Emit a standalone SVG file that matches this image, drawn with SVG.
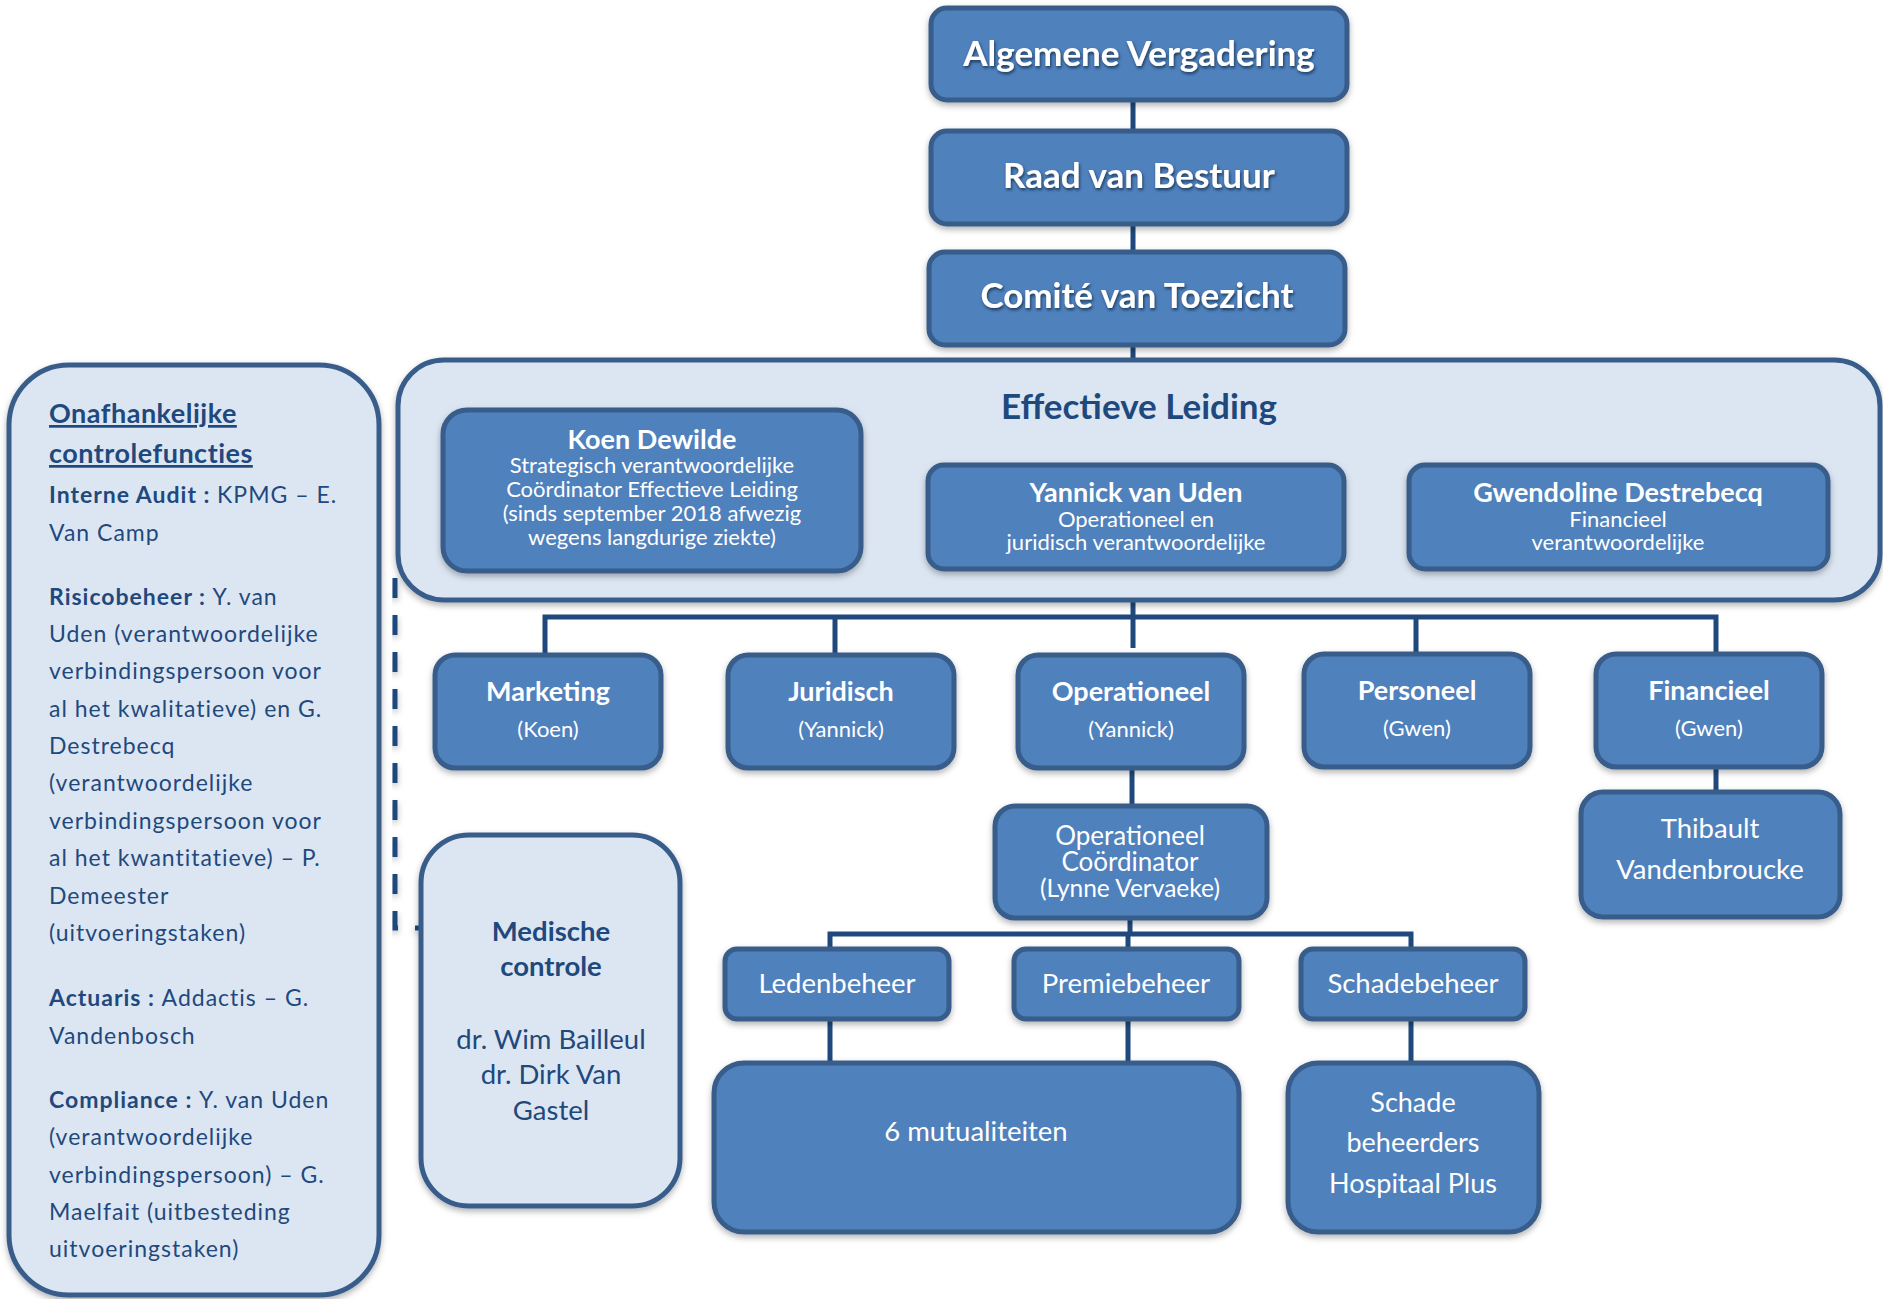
<svg xmlns="http://www.w3.org/2000/svg" width="1883" height="1299" viewBox="0 0 1883 1299">
<defs>
<filter id="sh" x="-10%" y="-10%" width="120%" height="130%">
<feDropShadow dx="0" dy="3" stdDeviation="3" flood-color="#000" flood-opacity="0.3"/>
</filter>
<filter id="tsh" x="-5%" y="-20%" width="110%" height="150%">
<feDropShadow dx="1" dy="2" stdDeviation="1.5" flood-color="#10253f" flood-opacity="0.8"/>
</filter>
<style>
.box{fill:#4f81bd;stroke:#385d8a;stroke-width:5}
.lbox{fill:#dce6f2;stroke:#385d8a;stroke-width:5}
.con{fill:none;stroke:#1f497d;stroke-width:5}
.dash{fill:none;stroke:#1f497d;stroke-width:5;stroke-dasharray:20 17}
text{font-family:Lato,"Liberation Sans",sans-serif}
.w{fill:#ffffff;text-anchor:middle}
.b{font-weight:bold}
.dk{fill:#1f497d}
.big{font-size:35px;font-weight:bold;fill:#fff;text-anchor:middle}
.hd{font-size:27px;font-weight:bold}
.dep{font-size:27px}
.sub{font-size:22px}
.lt{font-size:23px;fill:#1f497d;letter-spacing:1px}
.lh{font-size:27px;font-weight:bold;letter-spacing:0.5px;text-decoration:underline}
</style>
</defs>
<g id="connectors">
<path class="con" d="M1133 100V131M1133 225V251M1133 346V359M1133 600V648"/>
<path class="con" d="M545 654V617H1716V654M835 617V654M1416 617V654"/>
<path class="con" d="M1132 769V805M1716 768V791"/>
<path class="con" d="M1130 919V934M830 948V934H1411V948M1128 934V948"/>
<path class="con" d="M830 1020V1063M1128 1020V1063M1411 1020V1063"/>
<path class="dash" d="M395 578V928H420" filter="url(#sh)"/>
</g>
<g id="algemene-vergadering">
<rect class="box" x="931" y="8" width="416" height="92" rx="16" filter="url(#sh)"/>
<text class="big" x="1139" y="66" filter="url(#tsh)">Algemene Vergadering</text>
</g>
<g id="raad-van-bestuur">
<rect class="box" x="931" y="131" width="416" height="93" rx="16" filter="url(#sh)"/>
<text class="big" x="1139" y="188" filter="url(#tsh)">Raad van Bestuur</text>
</g>
<g id="comite-van-toezicht">
<rect class="box" x="929" y="252" width="416" height="93" rx="16" filter="url(#sh)"/>
<text class="big" x="1137" y="308" filter="url(#tsh)">Comité van Toezicht</text>
</g>
<g id="effectieve-leiding">
<rect class="lbox" x="398" y="360" width="1482" height="240" rx="46" filter="url(#sh)"/>
<text class="dk b" x="1139" y="419" font-size="35" text-anchor="middle">Effectieve Leiding</text>
</g>
<g id="koen-dewilde">
<rect class="box" x="443" y="410" width="418" height="161" rx="24" filter="url(#sh)"/>
<text class="w hd" x="652" y="449">Koen Dewilde</text>
<text class="w sub" x="652" y="473">Strategisch verantwoordelijke</text>
<text class="w sub" x="652" y="497">Coördinator Effectieve Leiding</text>
<text class="w sub" x="652" y="521">(sinds september 2018 afwezig</text>
<text class="w sub" x="652" y="545">wegens langdurige ziekte)</text>
</g>
<g id="yannick-van-uden">
<rect class="box" x="928" y="465" width="416" height="104" rx="16" filter="url(#sh)"/>
<text class="w hd" x="1136" y="502">Yannick van Uden</text>
<text class="w sub" x="1136" y="527">Operationeel en</text>
<text class="w sub" x="1136" y="550">juridisch verantwoordelijke</text>
</g>
<g id="gwendoline-destrebecq">
<rect class="box" x="1409" y="465" width="419" height="104" rx="16" filter="url(#sh)"/>
<text class="w hd" x="1618" y="502">Gwendoline Destrebecq</text>
<text class="w sub" x="1618" y="527">Financieel</text>
<text class="w sub" x="1618" y="550">verantwoordelijke</text>
</g>
<g id="marketing">
<rect class="box" x="435" y="655" width="226" height="113" rx="20" filter="url(#sh)"/>
<text class="w b dep" x="548" y="701">Marketing</text>
<text class="w sub" x="548" y="737">(Koen)</text>
</g>
<g id="juridisch">
<rect class="box" x="728" y="655" width="226" height="113" rx="20" filter="url(#sh)"/>
<text class="w b dep" x="841" y="701">Juridisch</text>
<text class="w sub" x="841" y="737">(Yannick)</text>
</g>
<g id="operationeel">
<rect class="box" x="1018" y="655" width="226" height="113" rx="20" filter="url(#sh)"/>
<text class="w b dep" x="1131" y="701">Operationeel</text>
<text class="w sub" x="1131" y="737">(Yannick)</text>
</g>
<g id="personeel">
<rect class="box" x="1304" y="654" width="226" height="113" rx="20" filter="url(#sh)"/>
<text class="w b dep" x="1417" y="700">Personeel</text>
<text class="w sub" x="1417" y="736">(Gwen)</text>
</g>
<g id="financieel">
<rect class="box" x="1596" y="654" width="226" height="113" rx="20" filter="url(#sh)"/>
<text class="w b dep" x="1709" y="700">Financieel</text>
<text class="w sub" x="1709" y="736">(Gwen)</text>
</g>
<g id="thibault-vandenbroucke">
<rect class="box" x="1581" y="792" width="259" height="125" rx="22" filter="url(#sh)"/>
<text class="w" x="1710" y="838" font-size="27.5">Thibault</text>
<text class="w" x="1710" y="879" font-size="27.5">Vandenbroucke</text>
</g>
<g id="operationeel-coordinator">
<rect class="box" x="995" y="806" width="272" height="112" rx="20" filter="url(#sh)"/>
<text class="w" x="1130" y="845" font-size="26">Operationeel</text>
<text class="w" x="1130" y="871" font-size="26">Coördinator</text>
<text class="w" x="1130" y="897" font-size="24.5">(Lynne Vervaeke)</text>
</g>
<g id="ledenbeheer">
<rect class="box" x="725" y="949" width="224" height="70" rx="12" filter="url(#sh)"/>
<text class="w" x="837" y="993" font-size="27.5">Ledenbeheer</text>
</g>
<g id="premiebeheer">
<rect class="box" x="1014" y="949" width="225" height="70" rx="12" filter="url(#sh)"/>
<text class="w" x="1126" y="993" font-size="27.5">Premiebeheer</text>
</g>
<g id="schadebeheer">
<rect class="box" x="1301" y="949" width="224" height="70" rx="12" filter="url(#sh)"/>
<text class="w" x="1413" y="993" font-size="27.5">Schadebeheer</text>
</g>
<g id="mutualiteiten">
<rect class="box" x="714" y="1063" width="525" height="169" rx="30" filter="url(#sh)"/>
<text class="w" x="976" y="1141" font-size="27.5">6 mutualiteiten</text>
</g>
<g id="schade-beheerders">
<rect class="box" x="1288" y="1063" width="251" height="169" rx="30" filter="url(#sh)"/>
<text class="w" x="1413" y="1112" font-size="27">Schade</text>
<text class="w" x="1413" y="1152" font-size="27">beheerders</text>
<text class="w" x="1413" y="1193" font-size="27">Hospitaal Plus</text>
</g>
<g id="medische-controle">
<rect class="lbox" x="421" y="835" width="259" height="371" rx="48" filter="url(#sh)"/>
<text class="dk b" x="551" y="941" font-size="27.5" text-anchor="middle">Medische</text>
<text class="dk b" x="551" y="976" font-size="27.5" text-anchor="middle">controle</text>
<text class="dk" x="551" y="1049" font-size="27.5" text-anchor="middle">dr. Wim Bailleul</text>
<text class="dk" x="551" y="1084" font-size="27.5" text-anchor="middle">dr. Dirk Van</text>
<text class="dk" x="551" y="1120" font-size="27.5" text-anchor="middle">Gastel</text>
</g>
<g id="onafhankelijke-controlefuncties">
<rect class="lbox" x="9" y="365" width="370" height="930" rx="60" filter="url(#sh)"/>
<text class="dk lh" x="49" y="423">Onafhankelijke</text>
<text class="dk lh" x="49" y="463">controlefuncties</text>
<text class="lt" x="49" y="503"><tspan font-weight="bold">Interne  Audit : </tspan>KPMG – E.</text>
<text class="lt" x="49" y="541">Van Camp</text>
<text class="lt" x="49" y="605"><tspan font-weight="bold">Risicobeheer : </tspan>Y. van</text>
<text class="lt" x="49" y="642">Uden (verantwoordelijke</text>
<text class="lt" x="49" y="679">verbindingspersoon voor</text>
<text class="lt" x="49" y="717">al het kwalitatieve) en G.</text>
<text class="lt" x="49" y="754">Destrebecq</text>
<text class="lt" x="49" y="791">(verantwoordelijke</text>
<text class="lt" x="49" y="829">verbindingspersoon voor</text>
<text class="lt" x="49" y="866">al het kwantitatieve) – P.</text>
<text class="lt" x="49" y="904">Demeester</text>
<text class="lt" x="49" y="941">(uitvoeringstaken)</text>
<text class="lt" x="49" y="1006"><tspan font-weight="bold">Actuaris : </tspan>Addactis – G.</text>
<text class="lt" x="49" y="1044">Vandenbosch</text>
<text class="lt" x="49" y="1108"><tspan font-weight="bold">Compliance : </tspan>Y. van Uden</text>
<text class="lt" x="49" y="1145">(verantwoordelijke</text>
<text class="lt" x="49" y="1183">verbindingspersoon) – G.</text>
<text class="lt" x="49" y="1220">Maelfait (uitbesteding</text>
<text class="lt" x="49" y="1257">uitvoeringstaken)</text>
</g>
</svg>
